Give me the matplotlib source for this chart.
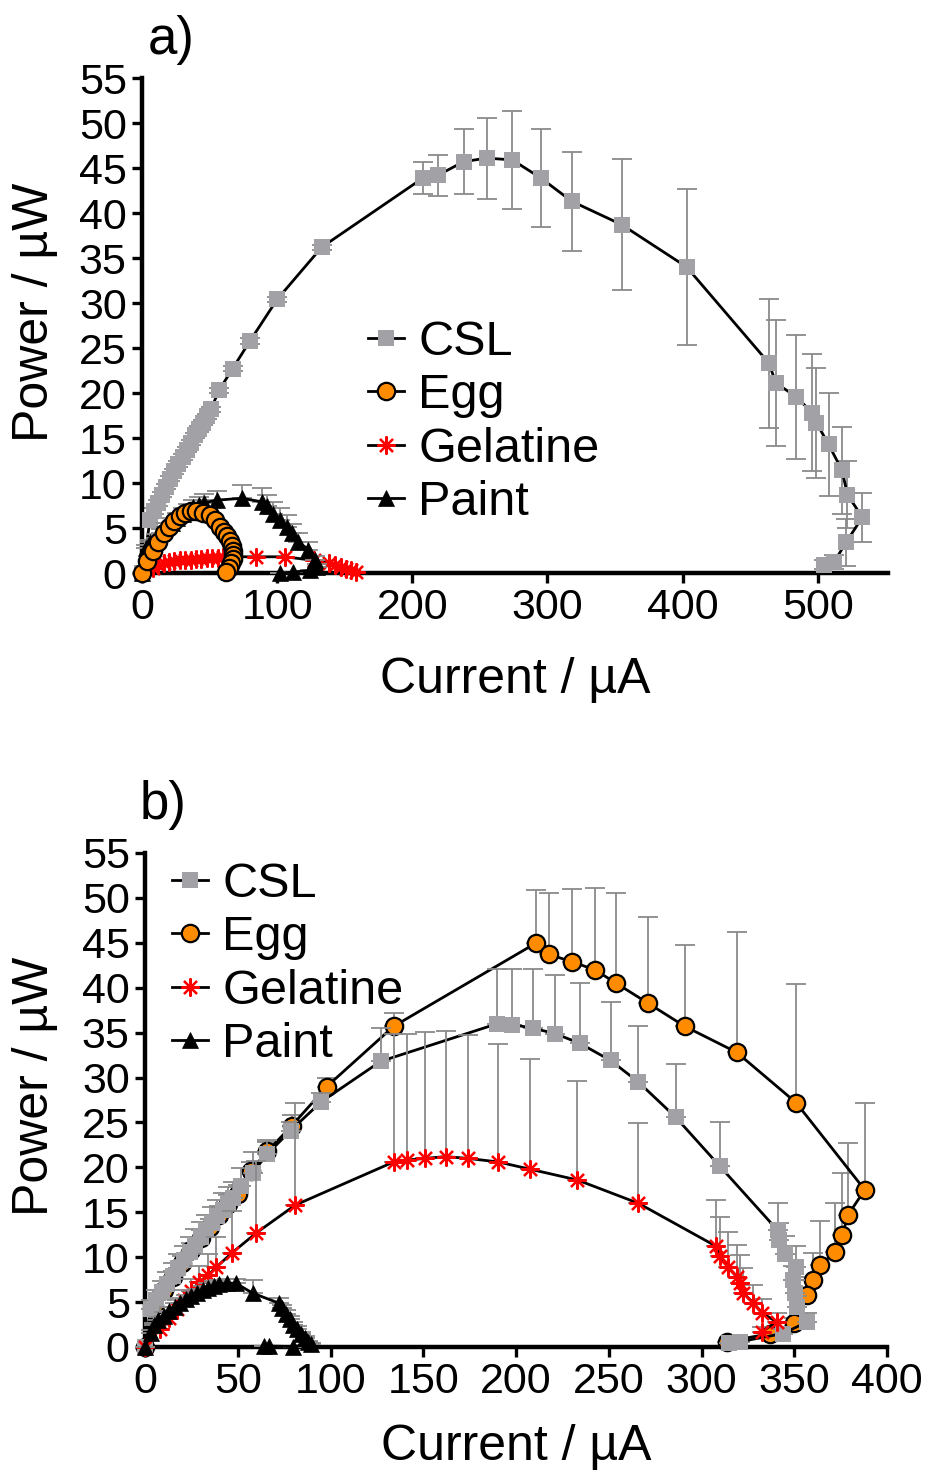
import matplotlib
matplotlib.use("Agg")
import matplotlib.pyplot as plt
from matplotlib.lines import Line2D

plt.rcParams['font.family'] = ['Liberation Sans', 'DejaVu Sans']

# ---------------- Panel a data ----------------
csl_a_I = [0, 6, 9, 12, 15, 18, 21, 24, 27, 30, 33, 36, 39, 42, 45, 48, 51, 57, 67, 80, 100, 133,
           208, 219, 238, 255, 274, 295, 318, 355, 403, 464, 469, 484, 496, 499, 508, 518, 522, 533, 521, 512, 505]
csl_a_P = [0, 5.9, 6.9, 7.8, 8.7, 9.6, 10.5, 11.3, 12.1, 12.9, 13.7, 14.5, 15.3, 16.0, 16.7, 17.4, 18.2, 20.3, 22.7, 25.8, 30.4, 36.2,
           43.9, 44.2, 45.7, 46.1, 45.9, 43.9, 41.3, 38.7, 34.0, 23.3, 21.1, 19.6, 17.8, 16.7, 14.3, 11.4, 8.7, 6.2, 3.4, 1.2, 0.9]
csl_a_err = [0, 0.3, 0.3, 0.3, 0.3, 0.3, 0.3, 0.3, 0.3, 0.3, 0.3, 0.3, 0.3, 0.3, 0.3, 0.3, 0.3, 0.3, 0.3, 0.3, 0.3, 0.3,
             1.8, 2.3, 3.6, 4.5, 5.4, 5.4, 5.5, 7.3, 8.7, 7.2, 7.0, 6.9, 6.5, 6.1, 5.7, 4.8, 3.7, 2.7, 2.6, 0.8, 0.5]

egg_a_I = [0, 4, 8, 12, 16, 20, 24, 28, 32, 36, 40, 45, 50, 54, 58, 61, 63, 65, 66.5, 67.5, 67.5, 67, 66, 64.5, 62]
egg_a_P = [0, 1.3, 2.5, 3.5, 4.4, 5.1, 5.8, 6.3, 6.7, 6.9, 6.9, 6.7, 6.4, 5.9, 5.1, 4.6, 4.1, 3.6, 3.0, 2.5, 2.0, 1.6, 1.1, 0.6, 0.1]

gel_a_I = [0, 8, 12, 16, 20, 24, 28, 32, 36, 40, 44, 48, 52, 56, 60, 84, 106, 127, 138, 143, 147, 151, 155, 158]
gel_a_P = [0, 0.6, 0.9, 1.1, 1.2, 1.3, 1.4, 1.5, 1.5, 1.6, 1.6, 1.7, 1.7, 1.7, 1.8, 1.8, 1.8, 1.4, 1.1, 0.9, 0.7, 0.5, 0.3, 0.1]

paint_a_I = [0, 3, 6, 10, 14, 18, 22, 26, 30, 34, 38, 42, 46, 55.5, 74, 89, 92.5, 97, 102, 107, 111, 115.5, 123, 128, 129.5, 124.5, 112, 102]
paint_a_P = [0, 2.8, 3.4, 3.9, 4.5, 5.1, 5.6, 6.1, 6.6, 7.0, 7.3, 7.6, 7.8, 8.1, 8.3, 7.9, 7.4, 6.6, 5.9, 5.1, 4.4, 3.5, 2.6, 1.4, 0.7, 0.3, 0.1, 0.0]
paint_a_err = [0, 0.3, 0.3, 0.4, 0.4, 0.5, 0.5, 0.6, 0.6, 0.7, 0.8, 0.9, 1.0, 1.0, 1.5, 1.6, 1.3, 1.3, 1.3, 1.3, 1.1, 0.9, 0.9, 0.5, 0.3, 0, 0, 0]

# ---------------- Panel b data ----------------
csl_b_I = [0, 3, 6, 9, 12, 15, 18, 21, 24, 27, 30, 33, 36, 39, 42, 45, 47.5, 52, 58, 66, 78.5, 95, 127,
           190, 198, 209, 221, 234.5, 251, 266, 286, 310, 341, 342, 345, 351, 349.5, 350.5, 351.5, 357, 344, 321, 315]
csl_b_P = [0, 4.2, 5.2, 6.1, 7.0, 7.9, 8.8, 9.7, 10.6, 11.4, 12.2, 13.0, 13.8, 14.6, 15.3, 16.0, 16.6, 17.9, 19.4, 21.5, 24.1, 27.3, 31.8,
           36.0, 35.9, 35.5, 34.9, 33.8, 31.9, 29.5, 25.6, 20.1, 13.0, 11.9, 10.4, 8.9, 7.5, 6.0, 4.5, 2.8, 1.5, 0.6, 0.4]
csl_b_err = [0, 1.0, 1.2, 1.3, 1.4, 1.5, 1.5, 1.6, 1.6, 1.7, 1.7, 1.7, 1.8, 1.8, 1.8, 1.8, 1.8, 2.0, 2.3, 1.5, 1.0, 1.0, 3.7,
             6.1, 6.2, 6.6, 6.5, 6.7, 6.5, 6.2, 5.9, 5.0, 3.0, 1.9, 2.0, 2.3, 1.5, 1.5, 1.2, 1.0, 0.5, 0, 0]

egg_b_I = [0, 5, 10, 15, 20, 25, 30, 35, 40, 45, 50, 57, 66, 79, 98, 134,
           211, 218, 230, 242.5, 254, 271, 291, 319, 351, 388, 379, 376, 372, 364, 360, 357, 350, 337, 314]
egg_b_P = [0, 4.6, 6.3, 7.8, 9.3, 10.8, 12.1, 13.4, 14.7, 15.9, 17.0, 19.6, 21.8, 24.6, 29.0, 35.7,
           45.0, 43.7, 42.9, 42.0, 40.5, 38.3, 35.7, 32.8, 27.2, 17.5, 14.7, 12.5, 10.6, 9.1, 7.5, 5.8, 2.7, 1.5, 0.6]
egg_b_err = [0, 0.5, 0.6, 0.7, 0.8, 0.8, 0.9, 0.9, 1.0, 1.0, 1.0, 1.0, 1.0, 1.2, 1.0, 1.5,
             5.9, 6.9, 8.1, 9.1, 10.1, 9.6, 9.1, 13.4, 13.2, 9.7, 8.0, 6.9, 5.4, 4.9, 3.0, 2.0, 0.5, 0.5, 0]

gel_b_I = [0, 8, 13, 17, 21, 25, 29, 34, 38.5, 47, 60, 81, 134, 141, 151, 162, 174, 190.5, 207.5, 233, 266,
           308, 310, 314.5, 319, 321, 322.5, 328, 332.5, 340.5, 332.5]
gel_b_P = [0, 2.0, 3.2, 4.2, 5.2, 6.2, 7.2, 8.0, 8.9, 10.5, 12.7, 15.8, 20.6, 20.8, 21.0, 21.2, 21.0, 20.6, 19.8, 18.6, 16.0,
           11.2, 10.1, 8.9, 7.8, 7.1, 6.0, 4.9, 3.8, 2.8, 1.7]
gel_b_err = [0, 0.5, 0.8, 1.0, 1.2, 1.4, 1.8, 2.4, 3.4, 4.6, 8.0, 11.4, 14.2, 14.0, 14.1, 14.0, 13.7, 13.1, 12.3, 11.0, 8.9,
             5.2, 4.4, 3.9, 3.6, 3.1, 2.8, 2.0, 1.5, 1.0, 0.5]

paint_b_I = [0, 3, 5, 7, 10, 13, 16, 19, 22, 25, 28, 31, 34, 37, 40, 44, 49, 58, 72, 74, 76, 78, 80, 82, 84, 86, 88, 89.5, 80, 67, 64]
paint_b_P = [0, 1.6, 2.4, 3.0, 3.5, 4.0, 4.5, 4.9, 5.3, 5.7, 6.0, 6.3, 6.6, 6.8, 7.0, 7.1, 7.1, 6.0, 4.9, 4.3, 3.7, 3.1, 2.5, 2.0, 1.5, 1.0, 0.6, 0.3, 0.05, 0.1, 0.1]
paint_b_err = [0, 0.3, 0.3, 0.3, 0.4, 0.4, 0.4, 0.5, 0.5, 0.5, 0.5, 0.5, 0.5, 0.5, 0.5, 0.5, 0.5, 1.5, 0.5, 0.4, 0.4, 0.3, 0.3, 0.3, 0.2, 0.2, 0.1, 0.1, 0, 0, 0]

series_names = ['CSL', 'Egg', 'Gelatine', 'Paint']

# ---------------- Styles ----------------
GRAY = '#a2a2a6'
ERR = '#8a8a8a'
ORANGE = '#ff8c00'
RED = '#ff0000'
AST = (8, 2, 0)

styles = {
    'CSL': dict(marker='s', ms=12, mfc=GRAY, mec=GRAY, mew=0),
    'Egg': dict(marker='o', ms=12.5, mfc=ORANGE, mec='black', mew=1.6),
    'Gelatine': dict(marker=AST, ms=13, mfc=RED, mec=RED, mew=1.6),
    'Paint': dict(marker='^', ms=11, mfc='black', mec='black', mew=0.5),
}

W, H = 926, 1474
fig = plt.figure(figsize=(W / 100, H / 100), dpi=100)


def add_ax(l, r, b, t):
    return fig.add_axes([l / W, 1 - b / H, (r - l) / W, (b - t) / H])


def draw_series(ax, name, I, P, err=None, both=False, z=3):
    if err is not None:
        lo = err if both else [0] * len(err)
        ax.errorbar(I, P, yerr=[lo, err], fmt='none', ecolor=ERR, elinewidth=1.3,
                    capsize=7, capthick=1.3, zorder=z - 0.5, clip_on=False)
    ax.plot(I, P, color='black', lw=2.0, zorder=z, clip_on=False, **styles[name])


def style_ax(ax, xmax, xstep, lab_x, lab_y):
    ax.set_ylim(0, 55)
    ax.set_xlim(0, xmax)
    ax.set_yticks(range(0, 56, 5))
    ax.set_xticks(range(0, int(xmax) + 1, xstep))
    for s in ['top', 'right']:
        ax.spines[s].set_visible(False)
    for s in ['left', 'bottom']:
        ax.spines[s].set_linewidth(3.2)
    ax.tick_params(direction='out', length=7, width=2.4, labelsize=31, pad=4)
    ax.set_xlabel('Current / µA', fontsize=36)
    ax.set_ylabel('Power / µW', fontsize=36)
    ax.xaxis.set_label_coords(0.5, lab_x)
    ax.yaxis.set_label_coords(lab_y, 0.527)
    ax.xaxis.label.set_va('center')
    ax.yaxis.label.set_va('center')
    ax.patch.set_alpha(0)


def legend(ax, x, y):
    handles = [Line2D([], [], color='black', lw=2.0, **styles[n]) for n in series_names]
    ax.legend(handles, series_names, loc='upper left', bbox_to_anchor=(x / W, 1 - y / H),
              bbox_transform=fig.transFigure, frameon=False, fontsize=35, handlelength=0.75,
              handletextpad=0.28, labelspacing=0.17, borderpad=0, borderaxespad=0)


# ---------------- Panel a ----------------
axa = add_ax(142, 888, 573, 78)
draw_series(axa, 'CSL', csl_a_I, csl_a_P, csl_a_err, both=True, z=3)
draw_series(axa, 'Gelatine', gel_a_I, gel_a_P, z=4)
draw_series(axa, 'Paint', paint_a_I, paint_a_P, paint_a_err, z=5)
draw_series(axa, 'Egg', egg_a_I, egg_a_P, z=6)
style_ax(axa, 552, 100, (573 - 680) / 495, (35 - 142) / 746)
legend(axa, 368, 320)
fig.text(148 / W, 1 - 40 / H, 'a)', fontsize=38, ha='left', va='center')

# ---------------- Panel b ----------------
axb = add_ax(145, 887, 1347, 853)
draw_series(axb, 'Egg', egg_b_I, egg_b_P, egg_b_err, z=3)
draw_series(axb, 'CSL', csl_b_I, csl_b_P, csl_b_err, z=4)
draw_series(axb, 'Gelatine', gel_b_I, gel_b_P, gel_b_err, z=5)
draw_series(axb, 'Paint', paint_b_I, paint_b_P, paint_b_err, z=6)
style_ax(axb, 400, 50, (1347 - 1447) / 494, (35 - 145) / 742)
legend(axb, 172, 862)
fig.text(140 / W, 1 - 805 / H, 'b)', fontsize=38, ha='left', va='center')

fig.savefig('out.png', dpi=100)
